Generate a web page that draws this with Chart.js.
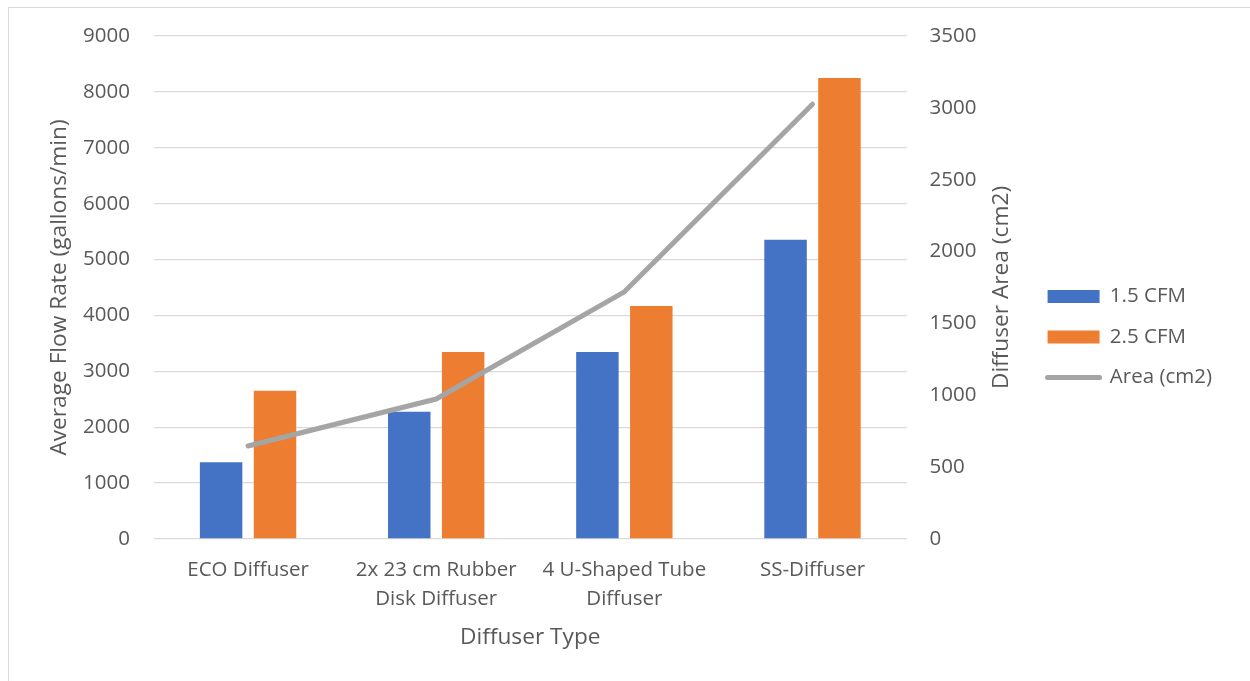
<!DOCTYPE html>
<html>
<head>
<meta charset="utf-8">
<script src="https://cdn.jsdelivr.net/npm/chart.js@4.4.1/dist/chart.umd.min.js"></script>
<style>
  html, body { margin: 0; padding: 0; background: #ffffff; }
  #wrap { position: relative; width: 1250px; height: 681px; }
  #frame { position: absolute; left: 8px; top: 7px; right: -4px; bottom: -4px;
           border-top: 1.5px solid #d9d9d9; border-left: 1.5px solid #d9d9d9; }
  canvas { position: absolute; left: 0; top: 0; }
</style>
</head>
<body>
<div id="wrap">
  <div id="frame"></div>
  <canvas id="chart" width="1250" height="681"></canvas>
</div>
<script>
// Diffuser types along the x axis (multi-line labels as arrays)
const categories = [
  'ECO Diffuser',
  ['2x 23 cm Rubber', 'Disk Diffuser'],
  ['4 U-Shaped Tube', 'Diffuser'],
  'SS-Diffuser'
];

// Average flow rate (gallons/min) at each air supply
const flow15 = [1372, 2277, 3345, 5354];
const flow25 = [2653, 3345, 4168, 8247];

// Diffuser area (cm2), right-hand axis
const area = [647, 974, 1720, 3025];

// Axis titles
const xTitle = 'Diffuser Type';
const yTitle = 'Average Flow Rate (gallons/min)';
const y1Title = 'Diffuser Area (cm2)';

const FONT = "'Open Sans', 'DejaVu Sans', sans-serif";
const TXT = '#595959';
const GRID = '#d9d9d9';

// Right-hand axis title, reading bottom-to-top like the left one
const rightTitle = {
  id: 'rightTitle',
  afterDraw(chart) {
    const { ctx, chartArea } = chart;
    ctx.save();
    ctx.translate(1002, (chartArea.top + chartArea.bottom) / 2);
    ctx.rotate(-Math.PI / 2);
    ctx.font = `22.7px ${FONT}`;
    ctx.fillStyle = TXT;
    ctx.textAlign = 'center';
    ctx.textBaseline = 'middle';
    ctx.fillText(y1Title, 0, 0);
    ctx.restore();
  }
};

new Chart(document.getElementById('chart'), {
  data: {
    labels: categories,
    datasets: [
      { type: 'bar', label: '1.5 CFM', data: flow15, backgroundColor: '#4472c4',
        yAxisID: 'y', order: 1, categoryPercentage: 0.573, barPercentage: 0.788 },
      { type: 'bar', label: '2.5 CFM', data: flow25, backgroundColor: '#ed7d31',
        yAxisID: 'y', order: 1, categoryPercentage: 0.573, barPercentage: 0.788 },
      { type: 'line', label: 'Area (cm2)', data: area, borderColor: '#a5a5a5',
        backgroundColor: '#a5a5a5', borderWidth: 5, borderCapStyle: 'round',
        borderJoinStyle: 'round', pointRadius: 0, tension: 0, fill: false,
        yAxisID: 'y1', order: 0 }
    ]
  },
  plugins: [rightTitle],
  options: {
    responsive: false,
    animation: false,
    layout: { padding: { left: 10, right: 28, top: 0, bottom: 7 } },
    plugins: {
      tooltip: { enabled: false },
      legend: {
        position: 'right',
        labels: {
          font: { family: FONT, size: 20.5 },
          color: TXT,
          usePointStyle: true,
          boxHeight: 13,
          pointStyleWidth: 52,
          padding: 20,
          sort: (a, b) => a.datasetIndex - b.datasetIndex,
          generateLabels: (chart) => chart.data.datasets.map((ds, i) => ({
            text: ds.label,
            datasetIndex: i,
            fillStyle: ds.backgroundColor,
            strokeStyle: ds.type === 'line' ? ds.borderColor : ds.backgroundColor,
            lineWidth: ds.type === 'line' ? 5 : 0,
            lineCap: 'round',
            pointStyle: ds.type === 'line' ? 'line' : 'rect',
            fontColor: TXT,
            hidden: false
          }))
        }
      }
    },
    scales: {
      x: {
        grid: { display: false, drawTicks: false },
        border: { display: false },
        ticks: { font: { family: FONT, size: 20.5, lineHeight: 1.45 }, color: TXT,
                 padding: 16, maxRotation: 0, autoSkip: false },
        title: { display: true, text: xTitle, color: TXT,
                 font: { family: FONT, size: 22.7 }, padding: { top: 0, bottom: 22.4 } },
        afterFit: (s) => { s.height = 135; }
      },
      y: {
        position: 'left',
        min: 0, max: 9000,
        grid: { color: GRID, lineWidth: 1.3, drawTicks: false },
        border: { display: false },
        ticks: { stepSize: 1000, font: { family: FONT, size: 20.5 }, color: TXT, padding: 24,
                 callback: (v) => String(v) },
        title: { display: true, text: yTitle, color: TXT,
                 font: { family: FONT, size: 22.7 }, padding: { top: 36, bottom: 0 } },
        afterFit: (s) => { s.width = 144; s.paddingTop = 36; }
      },
      y1: {
        position: 'right',
        min: 0, max: 3500,
        grid: { display: false, drawTicks: false },
        border: { display: false },
        ticks: { stepSize: 500, font: { family: FONT, size: 20.5 }, color: TXT, padding: 23,
                 callback: (v) => String(v) },
        afterFit: (s) => { s.width = 121; }
      }
    }
  }
});
</script>
</body>
</html>
